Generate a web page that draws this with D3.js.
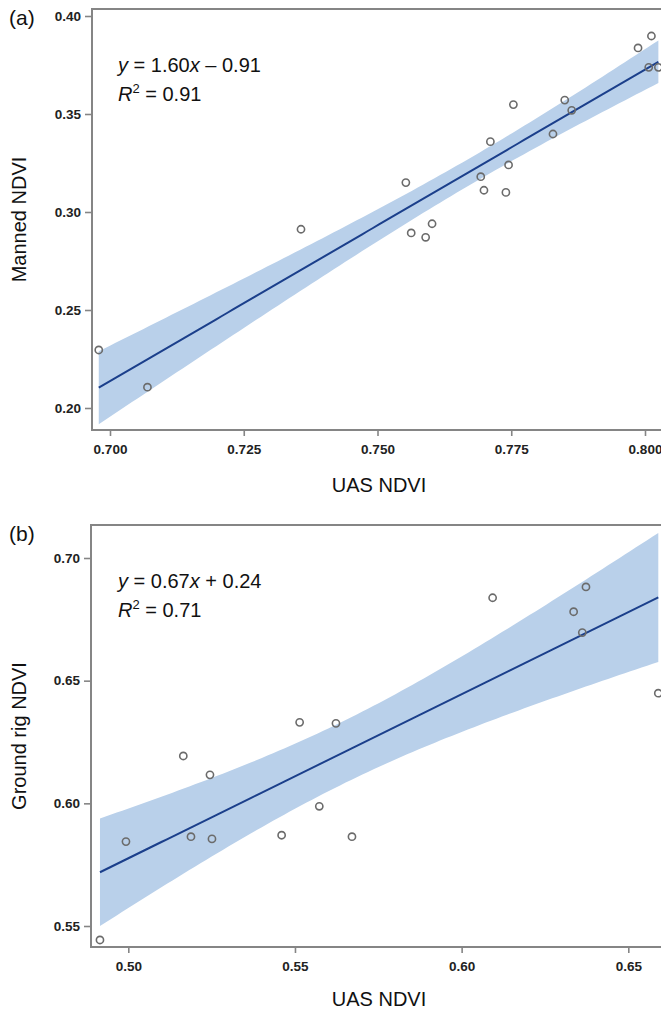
<!DOCTYPE html>
<html><head><meta charset="utf-8">
<script src="https://cdn.jsdelivr.net/npm/d3@7"></script>
<style>
body{margin:0;background:#fff;}
svg{display:block;font-family:"Liberation Sans",Arial,sans-serif;}
</style></head>
<body>
<script>
// ---- Panel (a) data ----
const aUAS = [0.6979,0.7070,0.7357,0.7553,0.7711,0.7828,0.7745,0.7693,0.7699,0.7740,0.7602,0.7563,0.7590,0.7754,0.7850,0.7863,0.7987,0.8012,0.8007,0.8025];
const aManned = [0.2296,0.2106,0.2912,0.3150,0.3359,0.3398,0.3240,0.3180,0.3111,0.3100,0.2940,0.2893,0.2871,0.3548,0.3571,0.3519,0.3837,0.3898,0.3738,0.3738];
const aXTicks = [0.700,0.725,0.750,0.775,0.800];
const aYTicks = [0.20,0.25,0.30,0.35,0.40];
const aEquation = ["y", " = 1.60", "x", " – 0.91"];
const aR2 = "0.91";
const aTcrit = 2.101;

// ---- Panel (b) data ----
const bUAS = [0.4915,0.4993,0.5165,0.5188,0.5245,0.5251,0.5460,0.5514,0.5573,0.5623,0.5671,0.6093,0.6336,0.6362,0.6373,0.6590];
const bGround = [0.5443,0.5844,0.6193,0.5864,0.6116,0.5855,0.5870,0.6330,0.5988,0.6326,0.5864,0.6838,0.6781,0.6696,0.6882,0.6449];
const bXTicks = [0.50,0.55,0.60,0.65];
const bYTicks = [0.55,0.60,0.65,0.70];
const bEquation = ["y", " = 0.67", "x", " + 0.24"];
const bR2 = "0.71";
const bTcrit = 2.145;

const W = 661, H = 1011;
const svg = d3.select("body").append("svg").attr("width", W).attr("height", H);

function fit(xs, ys, tcrit){
  const n = xs.length;
  const mx = d3.mean(xs), my = d3.mean(ys);
  let sxx=0, sxy=0;
  for(let i=0;i<n;i++){ sxx += (xs[i]-mx)**2; sxy += (xs[i]-mx)*(ys[i]-my); }
  const b = sxy/sxx, a = my - b*mx;
  let sse=0;
  for(let i=0;i<n;i++){ sse += (ys[i]-(a+b*xs[i]))**2; }
  const s = Math.sqrt(sse/(n-2));
  const [x0,x1] = d3.extent(xs);
  const pts = d3.range(0,101).map(k=>{
    const x = x0 + (x1-x0)*k/100;
    const yh = a+b*x;
    const se = s*Math.sqrt(1/n + (x-mx)**2/sxx);
    return {x, y:yh, lo:yh-tcrit*se, hi:yh+tcrit*se};
  });
  return pts;
}

function panel(cfg){
  const g = svg.append("g");
  const x = d3.scaleLinear().domain([cfg.xTicks[0], cfg.xTicks[cfg.xTicks.length-1]]).range(cfg.xRange);
  const y = d3.scaleLinear().domain([cfg.yTicks[0], cfg.yTicks[cfg.yTicks.length-1]]).range(cfg.yRange);
  const L = cfg.left, T = cfg.top, B = cfg.bottom, R = W + 20;

  const clipId = "clip" + cfg.id;
  g.append("clipPath").attr("id", clipId).append("rect")
    .attr("x", L).attr("y", T).attr("width", R-L).attr("height", B-T);

  const pts = fit(cfg.xs, cfg.ys, cfg.tcrit);
  const plot = g.append("g").attr("clip-path", `url(#${clipId})`);
  plot.append("path").datum(pts)
    .attr("d", d3.area().x(d=>x(d.x)).y0(d=>y(d.lo)).y1(d=>y(d.hi)))
    .attr("fill", "#b9d0ea");
  plot.append("path").datum(pts)
    .attr("d", d3.line().x(d=>x(d.x)).y(d=>y(d.y)))
    .attr("fill", "none").attr("stroke", "#1b3f8b").attr("stroke-width", 2);
  plot.selectAll("circle").data(cfg.xs.map((v,i)=>[v,cfg.ys[i]])).join("circle")
    .attr("cx", d=>x(d[0])).attr("cy", d=>y(d[1])).attr("r", 3.6)
    .attr("fill", "none").attr("stroke", "#6b6b6b").attr("stroke-width", 1.6);

  // frame
  g.append("path").attr("d", `M${R},${T}H${L}V${B}H${R}`)
    .attr("fill","none").attr("stroke","#858585").attr("stroke-width",2);

  // axes
  const xa = g.append("g").attr("transform", `translate(0,${B})`)
    .call(d3.axisBottom(x).tickValues(cfg.xTicks).tickFormat(d3.format(cfg.xFmt)).tickSize(6).tickPadding(8));
  const ya = g.append("g").attr("transform", `translate(${L},0)`)
    .call(d3.axisLeft(y).tickValues(cfg.yTicks).tickFormat(d3.format(".2f")).tickSize(7).tickPadding(4));
  [xa, ya].forEach(a=>{
    a.select(".domain").remove();
    a.selectAll("line").attr("stroke","#858585").attr("stroke-width",1.6);
    a.selectAll("text").attr("fill","#222").attr("font-size","13.5px").attr("font-weight","bold")
      .attr("font-family",'"Liberation Sans",Arial,sans-serif');
  });

  // axis titles
  g.append("text").attr("x", cfg.xTitleX).attr("y", cfg.xTitleY).attr("text-anchor","middle")
    .attr("font-size","20px").attr("fill","#111").text("UAS NDVI");
  g.append("text").attr("transform", `translate(${cfg.yTitleX},${(T+B)/2}) rotate(-90)`)
    .attr("text-anchor","middle").attr("font-size","20px").attr("fill","#111").text(cfg.yTitle);

  // panel label
  g.append("text").attr("x", cfg.labelX).attr("y", cfg.labelY)
    .attr("font-size","21px").attr("fill","#111").text(cfg.label);

  // equation
  const eq = g.append("text").attr("x", 118).attr("y", T + 63).attr("font-size","20px").attr("fill","#111");
  cfg.eq.forEach((s,i)=>{ eq.append("tspan").attr("font-style", i%2===0 ? "italic" : "normal").text(s); });
  const r2 = g.append("text").attr("x", 118).attr("y", T + 92).attr("font-size","20px").attr("fill","#111");
  r2.append("tspan").attr("font-style","italic").text("R");
  r2.append("tspan").attr("font-size","13px").attr("dy","-8").text("2");
  r2.append("tspan").attr("dy","8").text(" = " + cfg.r2);
}

panel({id:"a", xs:aUAS, ys:aManned, tcrit:aTcrit, xTicks:aXTicks, yTicks:aYTicks, xFmt:".3f",
  xRange:[110,645], yRange:[408,16], left:92, top:9, bottom:430,
  xTitleX:379, xTitleY:492, yTitleX:26, yTitle:"Manned NDVI", label:"(a)", labelX:9, labelY:25,
  eq:aEquation, r2:aR2});

panel({id:"b", xs:bUAS, ys:bGround, tcrit:bTcrit, xTicks:bXTicks, yTicks:bYTicks, xFmt:".2f",
  xRange:[128.3,628.3], yRange:[926,558], left:91, top:525, bottom:947,
  xTitleX:379, xTitleY:1006, yTitleX:26, yTitle:"Ground rig NDVI", label:"(b)", labelX:9, labelY:541,
  eq:bEquation, r2:bR2});
</script>
</body></html>
